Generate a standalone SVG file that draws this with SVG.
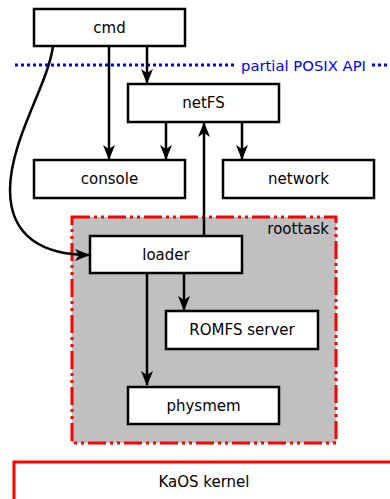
<svg xmlns="http://www.w3.org/2000/svg" width="390" height="499" viewBox="0 0 390 499">
<style>
.box{fill:#fff;stroke:#000;stroke-width:2.5}
.t{font-family:"DejaVu Sans",sans-serif;font-size:15px;fill:#000;text-anchor:middle}
.c{fill:none;stroke:#000;stroke-width:2.5}
</style>
<defs>
<marker id="a" viewBox="0 0 15 12" refX="14" refY="6" markerWidth="15" markerHeight="12" markerUnits="userSpaceOnUse" orient="auto">
<path d="M0,0 L15,6 L0,12 L4,6 z" fill="#000"/>
</marker>
</defs>
<g id="roottask">
<rect x="72" y="217" width="264" height="226" fill="#c0c0c0" stroke="#f00" stroke-width="3" stroke-dasharray="18,4,3,4,3,4"/>
<text class="t" x="329" y="234" style="text-anchor:end">roottask</text>
</g>
<g id="posix">
<line x1="15" y1="65" x2="234" y2="65" stroke="#00f" stroke-width="3" stroke-dasharray="3,3"/>
<line x1="372" y1="65" x2="390" y2="65" stroke="#00f" stroke-width="3" stroke-dasharray="3,3"/>
<text class="t" x="241" y="71" style="text-anchor:start;fill:#00f;font-size:14.8px">partial POSIX API</text>
</g>
<g id="kernel">
<rect x="14" y="462" width="390" height="50" fill="#fff" stroke="#f00" stroke-width="3"/>
<text class="t" x="204" y="487">KaOS kernel</text>
</g>
<g id="connectors">
<path class="c" d="M147,46 V83" marker-end="url(#a)"/>
<path class="c" d="M109,46 V159" marker-end="url(#a)"/>
<path class="c" d="M166,122 V159" marker-end="url(#a)"/>
<path class="c" d="M242,122 V159" marker-end="url(#a)"/>
<path class="c" d="M204,236 V123" marker-end="url(#a)"/>
<path class="c" d="M184,273 V310" marker-end="url(#a)"/>
<path class="c" d="M147,273 V385" marker-end="url(#a)"/>
<path class="c" d="M53,46 C48,85 10,140 10,190 C10,238 45,255 89,255" marker-end="url(#a)"/>
</g>
<g id="cmd"><rect class="box" x="34" y="9" width="151" height="37"/><text class="t" x="109.5" y="33">cmd</text></g>
<g id="netFS"><rect class="box" x="128" y="84" width="151" height="38"/><text class="t" x="203.5" y="108">netFS</text></g>
<g id="console"><rect class="box" x="34" y="160" width="151" height="38"/><text class="t" x="109.5" y="184">console</text></g>
<g id="network"><rect class="box" x="223" y="160" width="151" height="38"/><text class="t" x="298.5" y="184">network</text></g>
<g id="loader"><rect class="box" x="90" y="236" width="152" height="37"/><text class="t" x="166" y="260">loader</text></g>
<g id="romfs"><rect class="box" x="166" y="311" width="152" height="38"/><text class="t" x="242" y="335">ROMFS server</text></g>
<g id="physmem"><rect class="box" x="128" y="387" width="151" height="37"/><text class="t" x="203.5" y="411">physmem</text></g>
</svg>
